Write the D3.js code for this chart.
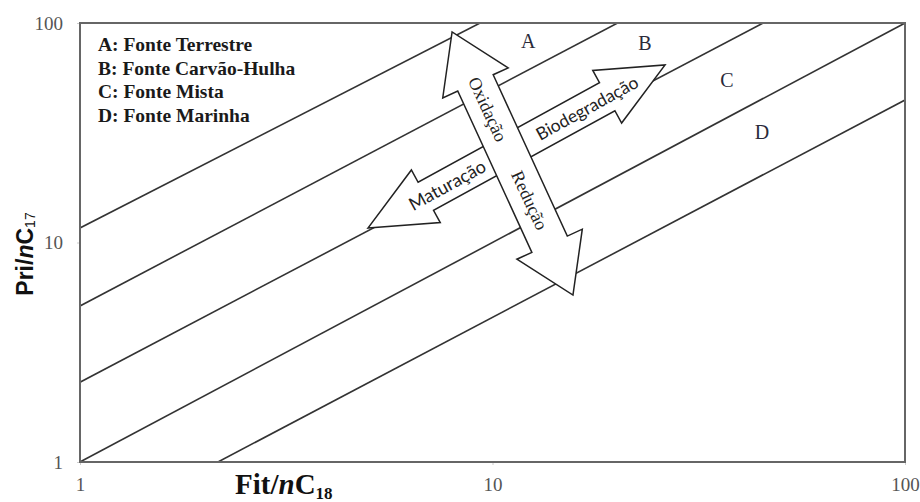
<!DOCTYPE html>
<html>
<head>
<meta charset="utf-8">
<script src="https://cdn.jsdelivr.net/npm/d3@7"></script>
<style>
  body { margin: 0; background: #fff; }
</style>
</head>
<body>
<div id="chart"></div>
<script>
// axis ticks
const xTicks = [1, 10, 100];
const yTicks = [1, 10, 100];

// source boundary lines (Fit/nC18, Pri/nC17), start and end points
const boundaryStart = [[1, 11.65], [1, 5.14], [1, 2.31], [1, 1], [2.16, 1]];
const boundaryEnd = [[9.33, 100], [20.1, 100], [45.3, 100], [100, 100], [100, 44.6]];

// region letters
const regionLabels = ["A", "B", "C", "D"];
const regionX = [12.2, 23.4, 37.0, 45.0];
const regionY = [82.8, 81.1, 55.0, 31.9];

// legend
const legendItems = [
  "A: Fonte Terrestre",
  "B: Fonte Carvão-Hulha",
  "C: Fonte Mista",
  "D: Fonte Marinha"
];

// process arrows, tips in data space
const oxidacaoTip = [7.98, 91.0];
const reducaoTip = [15.67, 5.76];
const maturacaoTip = [4.99, 11.64];
const biodegradacaoTip = [26.2, 64.4];

const width = 920, height = 502;
const margin = { top: 23, right: 15, bottom: 40, left: 80 };

const svg = d3.select("#chart")
  .append("svg")
  .attr("width", width)
  .attr("height", height);

svg.append("rect").attr("width", width).attr("height", height).attr("fill", "#fff");

const x = d3.scaleLog().domain([1, 100]).range([margin.left, width - margin.right]);
const y = d3.scaleLog().domain([1, 100]).range([height - margin.bottom, margin.top]);

// axes
const xAxis = svg.append("g")
  .attr("transform", `translate(0,${y(1)})`)
  .call(d3.axisBottom(x).tickValues(xTicks).tickFormat(d3.format("d")).tickSize(3).tickPadding(13));
const yAxis = svg.append("g")
  .attr("transform", `translate(${x(1)},0)`)
  .call(d3.axisLeft(y).tickValues(yTicks).tickFormat(d3.format("d")).tickSize(3).tickPadding(14));

[xAxis, yAxis].forEach(g => {
  g.select(".domain").remove();
  g.selectAll(".tick line").attr("stroke", "#ccc");
  g.selectAll(".tick text")
    .attr("font-family", "Liberation Serif, serif")
    .attr("font-size", 19)
    .attr("fill", "#555");
});

// boundary lines
svg.append("clipPath").attr("id", "plot")
  .append("rect")
  .attr("x", x(1)).attr("y", y(100))
  .attr("width", x(100) - x(1)).attr("height", y(1) - y(100));

svg.append("g")
  .attr("clip-path", "url(#plot)")
  .selectAll("line")
  .data(boundaryStart)
  .enter()
  .append("line")
  .attr("x1", d => x(d[0]))
  .attr("y1", d => y(d[1]))
  .attr("x2", (d, i) => x(boundaryEnd[i][0]))
  .attr("y2", (d, i) => y(boundaryEnd[i][1]))
  .attr("stroke", "#333")
  .attr("stroke-width", 1.6);

// frame
svg.append("rect")
  .attr("x", x(1)).attr("y", y(100))
  .attr("width", x(100) - x(1)).attr("height", y(1) - y(100))
  .attr("fill", "none")
  .attr("stroke", "#666")
  .attr("stroke-width", 2);

// double arrow polygon
function doubleArrow(a, b, shaftW, headW, headL) {
  const dx = b[0] - a[0], dy = b[1] - a[1];
  const len = Math.hypot(dx, dy);
  const u = [dx / len, dy / len];
  const n = [-u[1], u[0]];
  const pt = (p, along, side) => [p[0] + u[0] * along + n[0] * side, p[1] + u[1] * along + n[1] * side];
  return [
    a,
    pt(a, headL, headW / 2),
    pt(a, headL, shaftW / 2),
    pt(b, -headL, shaftW / 2),
    pt(b, -headL, headW / 2),
    b,
    pt(b, -headL, -headW / 2),
    pt(b, -headL, -shaftW / 2),
    pt(a, headL, -shaftW / 2),
    pt(a, headL, -headW / 2)
  ];
}

function drawArrow(tipA, tipB, shaftW, headW, headL) {
  const a = [x(tipA[0]), y(tipA[1])];
  const b = [x(tipB[0]), y(tipB[1])];
  svg.append("polygon")
    .attr("points", doubleArrow(a, b, shaftW, headW, headL).map(p => p.join(",")).join(" "))
    .attr("fill", "#fff")
    .attr("stroke", "#222")
    .attr("stroke-width", 1.5)
    .attr("stroke-linejoin", "miter");
  return { a, b, angle: Math.atan2(b[1] - a[1], b[0] - a[0]) * 180 / Math.PI };
}

function arrowText(arrow, t, label, font, size) {
  const px = arrow.a[0] + (arrow.b[0] - arrow.a[0]) * t;
  const py = arrow.a[1] + (arrow.b[1] - arrow.a[1]) * t;
  svg.append("text")
    .attr("transform", `translate(${px},${py}) rotate(${arrow.angle})`)
    .attr("text-anchor", "middle")
    .attr("dominant-baseline", "central")
    .attr("font-family", font)
    .attr("font-size", size)
    .attr("fill", "#222")
    .text(label);
}

const horiz = drawArrow(maturacaoTip, biodegradacaoTip, 32, 60, 66);
const vert = drawArrow(oxidacaoTip, reducaoTip, 39, 72, 56);

arrowText(horiz, 0.266, "Maturação", "Lato, sans-serif", 18);
arrowText(horiz, 0.737, "Biodegradação", "Lato, sans-serif", 17.5);
arrowText(vert, 0.294, "Oxidação", "Liberation Serif, serif", 18);
arrowText(vert, 0.64, "Redução", "Liberation Serif, serif", 18);

// region letters
svg.selectAll("text.region")
  .data(regionLabels)
  .enter()
  .append("text")
  .attr("class", "region")
  .attr("x", (d, i) => x(regionX[i]))
  .attr("y", (d, i) => y(regionY[i]))
  .attr("text-anchor", "middle")
  .attr("dominant-baseline", "central")
  .attr("font-family", "Liberation Serif, serif")
  .attr("font-size", 20)
  .attr("fill", "#2a2a3a")
  .text(d => d);

// legend
svg.selectAll("text.legend")
  .data(legendItems)
  .enter()
  .append("text")
  .attr("class", "legend")
  .attr("x", 98)
  .attr("y", (d, i) => 51 + i * 23.7)
  .attr("font-family", "Liberation Serif, serif")
  .attr("font-weight", "bold")
  .attr("font-size", 19.5)
  .attr("fill", "#1a1a1a")
  .text(d => d);

// x axis title
const xTitle = svg.append("text")
  .attr("x", 235)
  .attr("y", 494)
  .attr("font-family", "Liberation Serif, serif")
  .attr("font-weight", "bold")
  .attr("font-size", 29)
  .attr("fill", "#111");
xTitle.append("tspan").text("Fit/");
xTitle.append("tspan").attr("font-style", "italic").text("n");
xTitle.append("tspan").text("C");
xTitle.append("tspan").attr("font-size", 17).attr("dy", 5).text("18");

// y axis title
const yTitle = svg.append("text")
  .attr("transform", "translate(33,254) rotate(-90)")
  .attr("text-anchor", "middle")
  .attr("font-family", "Liberation Sans, Arial, sans-serif")
  .attr("font-weight", "bold")
  .attr("font-size", 23)
  .attr("fill", "#111");
yTitle.append("tspan").text("Pri/");
yTitle.append("tspan").attr("font-style", "italic").text("n");
yTitle.append("tspan").text("C");
yTitle.append("tspan").attr("font-size", 14).attr("font-weight", "normal").attr("dy", 2).text("17");
</script>
</body>
</html>
